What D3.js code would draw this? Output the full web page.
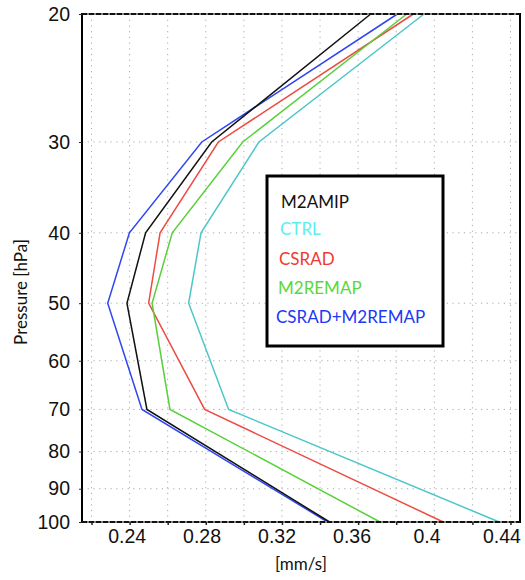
<!DOCTYPE html>
<html>
<head>
<meta charset="utf-8">
<script src="https://cdn.jsdelivr.net/npm/d3@7"></script>
<style>
  body { margin: 0; background: #fff; }
  svg { display: block; font-family: Lato, "Noto Sans", sans-serif; }
</style>
</head>
<body>
<svg id="chart" width="525" height="580"></svg>
<script>
// Pressure levels (hPa) at which each profile is sampled
const pressureLevels = [20, 30, 40, 50, 70, 100];

// Profiles (mm/s) for each experiment, one value per pressure level
const m2amip      = [0.3666, 0.2831, 0.2484, 0.2386, 0.2491, 0.3450];
const ctrl        = [0.3946, 0.3079, 0.2775, 0.2710, 0.2920, 0.4341];
const csrad       = [0.3890, 0.2866, 0.2560, 0.2500, 0.2794, 0.4047];
const m2remap     = [0.3855, 0.2994, 0.2624, 0.2518, 0.2612, 0.3715];
const csradRemap  = [0.3806, 0.2779, 0.2399, 0.2285, 0.2465, 0.3440];

const seriesNames = ["M2AMIP", "CTRL", "CSRAD", "M2REMAP", "CSRAD+M2REMAP"];
const seriesValues = [m2amip, ctrl, csrad, m2remap, csradRemap];

// Axis ticks
const yTicks = [20, 30, 40, 50, 60, 70, 80, 90, 100];
const xMinorTicks = [0.22, 0.24, 0.26, 0.28, 0.30, 0.32, 0.34, 0.36, 0.38, 0.40, 0.42, 0.44];
const xTickLabels = [0.24, 0.28, 0.32, 0.36, 0.4, 0.44];

// Styling
const lineColors = {
  "M2AMIP": "#111111",
  "CTRL": "#4cc6c8",
  "CSRAD": "#ec4c44",
  "M2REMAP": "#58d03a",
  "CSRAD+M2REMAP": "#2e46f2"
};
const textColors = {
  "M2AMIP": "#111111",
  "CTRL": "#5eeeee",
  "CSRAD": "#f03a30",
  "M2REMAP": "#5ad83a",
  "CSRAD+M2REMAP": "#2038f5"
};

const W = 525, H = 580;
const margin = { left: 82, right: 5, top: 14, bottom: 58 };
const x0 = margin.left, x1 = W - margin.right;
const y0 = margin.top, y1 = H - margin.bottom;

const svg = d3.select("#chart");

const x = d3.scaleLinear().domain([0.215, 0.445]).range([x0, x1]);
const y = d3.scaleLog().domain([20, 100]).range([y0, y1]);

// Dotted grid
const grid = svg.append("g").attr("stroke", "#aaaaaa").attr("stroke-width", 1)
  .attr("stroke-dasharray", "1.2,4.5");
grid.selectAll("line.v").data(xMinorTicks).join("line")
  .attr("x1", d => x(d)).attr("x2", d => x(d))
  .attr("y1", y0).attr("y2", y1);
grid.selectAll("line.h").data(yTicks.filter(d => d > 20 && d < 100)).join("line")
  .attr("x1", x0).attr("x2", x1)
  .attr("y1", d => y(d)).attr("y2", d => y(d));

// Profiles
const line = d3.line()
  .x(d => x(d[0]))
  .y(d => y(d[1]));

const drawOrder = ["CTRL", "CSRAD", "M2REMAP", "CSRAD+M2REMAP", "M2AMIP"];
drawOrder.forEach(name => {
  const vals = seriesValues[seriesNames.indexOf(name)];
  const pts = vals.map((v, i) => [v, pressureLevels[i]]);
  svg.append("path")
    .datum(pts)
    .attr("d", line)
    .attr("fill", "none")
    .attr("stroke", lineColors[name])
    .attr("stroke-width", 1.5)
    .attr("stroke-linejoin", "miter");
});

// Frame: solid sides, dashed top and bottom
const frame = svg.append("g");
frame.append("line").attr("x1", x0).attr("x2", x0).attr("y1", y0 - 1).attr("y2", y1 + 1)
  .attr("stroke", "#000").attr("stroke-width", 2);
frame.append("line").attr("x1", x1).attr("x2", x1).attr("y1", y0 - 1).attr("y2", y1 + 1)
  .attr("stroke", "#000").attr("stroke-width", 2);
[y0, y1].forEach(yy => {
  frame.append("line").attr("x1", x0).attr("x2", x1).attr("y1", yy).attr("y2", yy)
    .attr("stroke", "#888").attr("stroke-width", 2);
  frame.append("line").attr("x1", x0).attr("x2", x1).attr("y1", yy).attr("y2", yy)
    .attr("stroke", "#111").attr("stroke-width", 2).attr("stroke-dasharray", "5,2");
});

// X axis
const xAxis = d3.axisBottom(x)
  .tickValues(xMinorTicks)
  .tickSize(3)
  .tickFormat(d => xTickLabels.some(v => Math.abs(v - d) < 1e-9) ? d3.format("")(+d.toFixed(2)) : "");
const gx = svg.append("g").attr("transform", `translate(0,${y1})`).call(xAxis);
gx.select(".domain").remove();
gx.selectAll(".tick line").attr("stroke", "#222").attr("stroke-width", 1.5);
gx.selectAll(".tick text")
  .attr("font-size", 19.5)
  .attr("fill", "#111")
  .attr("y", 7)
  .attr("dx", d => -(3 + 30 * (d - 0.24)));

// Y axis
const yAxis = d3.axisLeft(y)
  .tickValues(yTicks)
  .tickSize(3)
  .tickFormat(d3.format("d"));
const gy = svg.append("g").attr("transform", `translate(${x0},0)`).call(yAxis);
gy.select(".domain").remove();
gy.selectAll(".tick line").attr("stroke", "#222").attr("stroke-width", 1);
gy.selectAll(".tick text")
  .attr("font-size", 19.5)
  .attr("fill", "#111")
  .attr("x", -12);

// Axis titles
svg.append("text")
  .attr("x", (x0 + x1) / 2)
  .attr("y", 570)
  .attr("text-anchor", "middle")
  .attr("font-size", 17)
  .attr("fill", "#111")
  .text("[mm/s]");

svg.append("text")
  .attr("transform", `translate(27,292) rotate(-90)`)
  .attr("text-anchor", "middle")
  .attr("font-size", 17)
  .attr("fill", "#111")
  .text("Pressure [hPa]");

// Legend
const legend = svg.append("g");
legend.append("rect")
  .attr("x", 267).attr("y", 176)
  .attr("width", 176).attr("height", 170)
  .attr("fill", "#fff")
  .attr("stroke", "#000")
  .attr("stroke-width", 3);

const legendX = [281, 280, 279, 278, 276];
const legendY = [208, 235, 265, 294, 322.5];
seriesNames.forEach((name, i) => {
  legend.append("text")
    .attr("x", legendX[i])
    .attr("y", legendY[i])
    .attr("font-size", 17)
    .attr("fill", textColors[name])
    .text(name);
});
</script>
</body>
</html>
